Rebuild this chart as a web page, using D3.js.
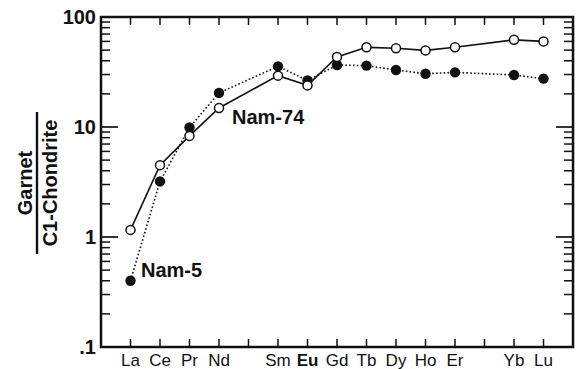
<!DOCTYPE html>
<html>
<head>
<meta charset="utf-8">
<script src="https://cdn.jsdelivr.net/npm/d3@7/dist/d3.min.js"></script>
<style>
  html, body { margin: 0; padding: 0; background: #fff; }
  svg { display: block; font-family: "Liberation Sans", Arial, Helvetica, sans-serif; }
</style>
</head>
<body>
<svg id="chart" width="580" height="369"></svg>
<script>
// Rare earth element slots (Pm and Tm are unlabeled tick positions)
const elements = ["La", "Ce", "Pr", "Nd", "Pm", "Sm", "Eu", "Gd", "Tb", "Dy", "Ho", "Er", "Tm", "Yb", "Lu"];
const labeledElements = ["La", "Ce", "Pr", "Nd", "Sm", "Eu", "Gd", "Tb", "Dy", "Ho", "Er", "Yb", "Lu"];
const sampleElements = ["La", "Ce", "Pr", "Nd", "Sm", "Eu", "Gd", "Tb", "Dy", "Ho", "Er", "Yb", "Lu"];

// Chondrite-normalised garnet compositions
const nam74 = [1.16, 4.5, 8.3, 14.9, 29.3, 23.9, 43.3, 53, 52, 49.7, 53, 62, 60];
const nam5 = [0.40, 3.2, 9.9, 20.4, 35.6, 26.5, 36.6, 36.1, 33, 30.5, 31.4, 29.7, 27.5];

const yTickValues = [0.1, 1, 10, 100];
const yTickLabels = [".1", "1", "10", "100"];

const svg = d3.select("#chart");
const plotLeft = 101, plotRight = 573, plotTop = 17, plotBottom = 347;

const x = d3.scaleLinear().domain([-1, elements.length]).range([plotLeft, plotRight]);
const y = d3.scaleLog().domain([0.1, 100]).range([plotBottom, plotTop]);

const xi = el => x(elements.indexOf(el));

// Minor log ticks (2..9 in each decade)
const minor = [];
for (let d = 0.1; d < 100; d *= 10) {
  for (let k = 2; k <= 9; k++) minor.push(+(d * k).toPrecision(3));
}

const axisG = svg.append("g");

// Left and right log axes with inward ticks
function yTicks(side) {
  const sign = side === "left" ? 1 : -1;
  const x0 = side === "left" ? plotLeft : plotRight;
  axisG.selectAll(null).data(yTickValues).enter().append("line")
    .attr("x1", x0).attr("x2", x0 + sign * 17)
    .attr("y1", d => y(d)).attr("y2", d => y(d))
    .attr("stroke", "#111").attr("stroke-width", 1.7);
  axisG.selectAll(null).data(minor).enter().append("line")
    .attr("x1", x0).attr("x2", x0 + sign * 9)
    .attr("y1", d => y(d)).attr("y2", d => y(d))
    .attr("stroke", "#111").attr("stroke-width", 1.5);
}
yTicks("left");
yTicks("right");

// Top and bottom ticks at every element slot
elements.forEach((el, i) => {
  axisG.append("line").attr("x1", x(i)).attr("x2", x(i))
    .attr("y1", plotTop).attr("y2", plotTop + 8).attr("stroke", "#111").attr("stroke-width", 1.5);
  axisG.append("line").attr("x1", x(i)).attr("x2", x(i))
    .attr("y1", plotBottom).attr("y2", plotBottom - 8).attr("stroke", "#111").attr("stroke-width", 1.5);
});

// Frame
svg.append("rect").attr("x", plotLeft).attr("y", plotTop)
  .attr("width", plotRight - plotLeft).attr("height", plotBottom - plotTop)
  .attr("fill", "none").attr("stroke", "#111").attr("stroke-width", 2.5);

// Y tick labels
svg.selectAll(null).data(yTickValues).enter().append("text")
  .attr("x", 96).attr("y", d => y(d) + 7)
  .attr("text-anchor", "end")
  .attr("font-size", 20).attr("font-weight", "bold").attr("fill", "#111")
  .text((d, i) => yTickLabels[i]);

// X tick labels
svg.selectAll(null).data(labeledElements).enter().append("text")
  .attr("x", d => xi(d)).attr("y", 366)
  .attr("text-anchor", "middle")
  .attr("font-size", 17)
  .attr("font-weight", d => d === "Eu" ? "bold" : "normal")
  .attr("fill", "#111")
  .text(d => d);

// Y axis title as a fraction
const title = svg.append("g").attr("transform", "translate(37,183) rotate(-90)");
title.append("text").attr("x", 0).attr("y", -5).attr("text-anchor", "middle")
  .attr("font-size", 20).attr("font-weight", "bold").attr("fill", "#111").text("Garnet");
title.append("line").attr("x1", -71).attr("x2", 71).attr("y1", 0).attr("y2", 0)
  .attr("stroke", "#111").attr("stroke-width", 2.4);
title.append("text").attr("x", 0).attr("y", 20).attr("text-anchor", "middle")
  .attr("font-size", 20).attr("font-weight", "bold").attr("fill", "#111").text("C1-Chondrite");

// Series lines
const line = d3.line().x(d => xi(d.el)).y(d => y(d.v));
const s74 = sampleElements.map((el, i) => ({ el, v: nam74[i] }));
const s5 = sampleElements.map((el, i) => ({ el, v: nam5[i] }));

svg.append("path").datum(s5).attr("d", line)
  .attr("fill", "none").attr("stroke", "#111").attr("stroke-width", 1.6)
  .attr("stroke-dasharray", "1.6,2.2");
svg.append("path").datum(s74).attr("d", line)
  .attr("fill", "none").attr("stroke", "#111").attr("stroke-width", 1.6);

// Markers: filled (Nam-5) beneath open (Nam-74)
svg.selectAll(null).data(s5).enter().append("circle")
  .attr("cx", d => xi(d.el)).attr("cy", d => y(d.v)).attr("r", 5.2)
  .attr("fill", "#111");
svg.selectAll(null).data(s74).enter().append("circle")
  .attr("cx", d => xi(d.el)).attr("cy", d => y(d.v)).attr("r", 4.5)
  .attr("fill", "#fff").attr("stroke", "#111").attr("stroke-width", 1.5);

// Series labels
svg.append("text").attr("x", 232).attr("y", 124)
  .attr("font-size", 20).attr("font-weight", "bold").attr("fill", "#111").text("Nam-74");
svg.append("text").attr("x", 141).attr("y", 277)
  .attr("font-size", 20).attr("font-weight", "bold").attr("fill", "#111").text("Nam-5");
</script>
</body>
</html>
